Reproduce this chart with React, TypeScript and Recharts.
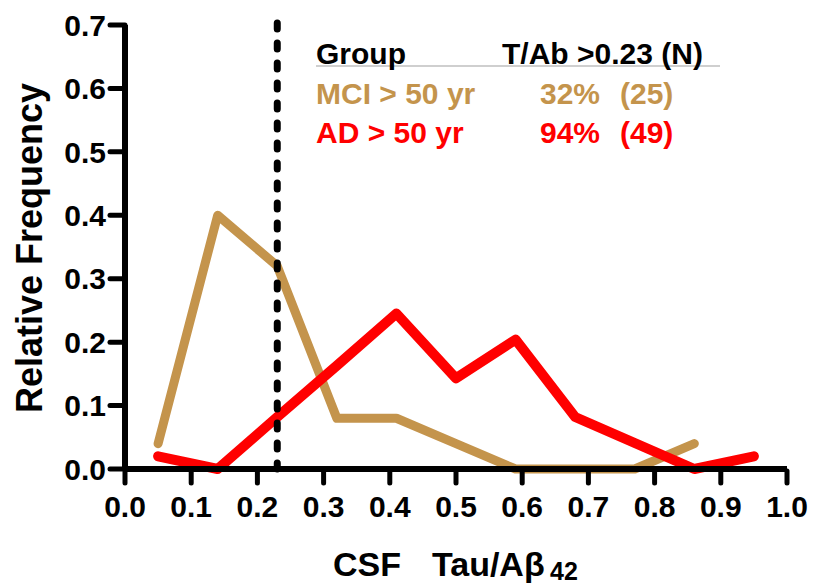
import { LineChart, Line, XAxis, YAxis, ReferenceLine } from 'recharts';

const bins = [0.05, 0.14, 0.23, 0.32, 0.41, 0.5, 0.59, 0.68, 0.77, 0.86, 0.95];
const mciFreq = [0.04, 0.4, 0.32, 0.08, 0.08, 0.04, 0, 0, 0, 0.04, null];
const adFreq = [0.02, 0, 0.082, 0.163, 0.245, 0.143, 0.204, 0.082, 0.041, 0, 0.02];
const xTicks = [0, 0.1, 0.2, 0.3, 0.4, 0.5, 0.6, 0.7, 0.8, 0.9, 1.0];
const yTicks = [0, 0.1, 0.2, 0.3, 0.4, 0.5, 0.6, 0.7];
const cutoff = 0.23;

const FONT = '"Liberation Sans", Arial, Helvetica, sans-serif';
const TAN = '#C4944C';
const RED = '#FF0000';

const data = bins.map((x, i) => ({ x, mci: mciFreq[i], ad: adFreq[i] }));

const X_TICK = 14;
const X_GAP = 13;
const Y_TICK = 15;
const Y_GAP = 4;

// tick mark + label drawn together so the marks can be as heavy as the original
function XTick(props: any) {
  const { x, y, payload } = props;
  const axisY = y - X_TICK - X_GAP;
  return (
    <g>
      <line x1={x} y1={axisY + 2} x2={x} y2={axisY + 14} stroke="#000" strokeWidth={5} strokeLinecap="round" />
      <text x={x} y={y} dy="0.71em" textAnchor="middle" fontSize={30} fontWeight={700} fontFamily={FONT} fill="#000">
        {Number(payload.value).toFixed(1)}
      </text>
    </g>
  );
}

function YTick(props: any) {
  const { x, y, payload } = props;
  const axisX = x + Y_TICK + Y_GAP;
  return (
    <g>
      <line x1={axisX - 15} y1={y} x2={axisX} y2={y} stroke="#000" strokeWidth={5} strokeLinecap="round" />
      <text x={x} y={y} dy="0.355em" textAnchor="end" fontSize={30} fontWeight={700} fontFamily={FONT} fill="#000">
        {Number(payload.value).toFixed(1)}
      </text>
    </g>
  );
}

export default function App() {
  return (
    <div style={{ position: 'absolute', left: 0, top: 0, width: 817, height: 585, background: '#fff' }}>
      <LineChart width={817} height={585} data={data} margin={{ top: 25, right: 30, bottom: 56, left: 25 }}>
        <XAxis
          type="number"
          dataKey="x"
          domain={[0, 1]}
          ticks={xTicks}
          height={60}
          axisLine={false}
          tickLine={false}
          tickSize={X_TICK}
          tickMargin={X_GAP}
          tick={XTick}
          interval={0}
          allowDataOverflow
        />
        <YAxis
          type="number"
          domain={[0, 0.7]}
          ticks={yTicks}
          width={100}
          axisLine={false}
          tickLine={false}
          tickSize={Y_TICK}
          tickMargin={Y_GAP}
          tick={YTick}
          interval={0}
        />
        <Line
          dataKey="mci"
          stroke={TAN}
          strokeWidth={9}
          dot={false}
          activeDot={false}
          strokeLinejoin="round"
          strokeLinecap="round"
          isAnimationActive={false}
        />
        <Line
          dataKey="ad"
          stroke={RED}
          strokeWidth={10}
          dot={false}
          activeDot={false}
          strokeLinejoin="round"
          strokeLinecap="round"
          isAnimationActive={false}
        />
        {/* axis lines, drawn over the series like in the original */}
        <ReferenceLine y={0} stroke="#000" strokeWidth={6} ifOverflow="visible" />
        <ReferenceLine x={0} stroke="#000" strokeWidth={6} ifOverflow="visible" />
        <ReferenceLine
          segment={[{ x: cutoff, y: 0 }, { x: cutoff, y: 0.705 }]}
          stroke="#000"
          strokeWidth={7}
          strokeDasharray="6 14"
          strokeLinecap="round"
          ifOverflow="visible"
        />
      </LineChart>
      <svg
        width={817}
        height={585}
        style={{ position: 'absolute', left: 0, top: 0, pointerEvents: 'none' }}
        fontFamily={FONT}
        fontWeight={700}
      >
        <text x={42} y={248} fontSize={36} textAnchor="middle" transform="rotate(-90 42 248)" fill="#000">
          Relative Frequency
        </text>
        <text y={576} fontSize={34} fill="#000">
          <tspan x={333}>CSF</tspan>
          <tspan x={432}>Tau/Aβ</tspan>
          <tspan x={550} y={580} fontSize={25}>42</tspan>
        </text>

        <line x1={316} y1={66} x2={720} y2={66} stroke="#cfcfcf" strokeWidth={2} />
        <text x={316} y={64} fontSize={30} fill="#000">Group</text>
        <text x={502} y={64} fontSize={30} fill="#000">T/Ab &gt;0.23 (N)</text>
        <text x={316} y={104} fontSize={30} fill={TAN}>MCI &gt; 50 yr</text>
        <text x={540} y={104} fontSize={30} fill={TAN}>32%</text>
        <text x={620} y={104} fontSize={30} fill={TAN}>(25)</text>
        <text x={316} y={143} fontSize={30} fill={RED}>AD &gt; 50 yr</text>
        <text x={540} y={143} fontSize={30} fill={RED}>94%</text>
        <text x={620} y={143} fontSize={30} fill={RED}>(49)</text>
      </svg>
    </div>
  );
}
